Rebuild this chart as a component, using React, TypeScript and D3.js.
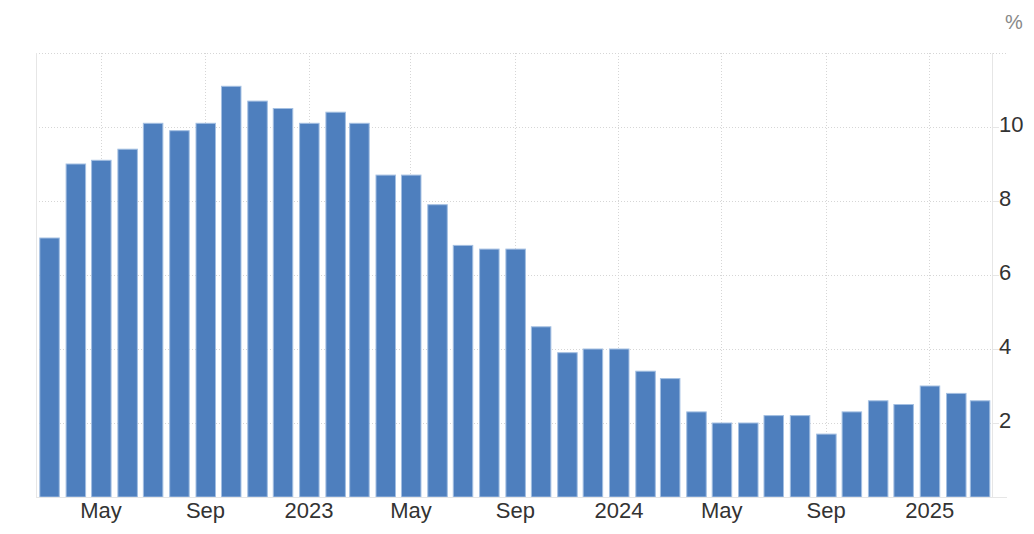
import React, { useEffect, useRef } from 'react'
import * as d3 from 'd3'

// UK CPI annual rate, Mar 2022 – Mar 2025
const months: string[] = [
  '2022-03', '2022-04', '2022-05', '2022-06', '2022-07', '2022-08', '2022-09', '2022-10', '2022-11', '2022-12',
  '2023-01', '2023-02', '2023-03', '2023-04', '2023-05', '2023-06', '2023-07', '2023-08', '2023-09', '2023-10',
  '2023-11', '2023-12', '2024-01', '2024-02', '2024-03', '2024-04', '2024-05', '2024-06', '2024-07', '2024-08',
  '2024-09', '2024-10', '2024-11', '2024-12', '2025-01', '2025-02', '2025-03',
]
const values: number[] = [
  7.0, 9.0, 9.1, 9.4, 10.1, 9.9, 10.1, 11.1, 10.7, 10.5,
  10.1, 10.4, 10.1, 8.7, 8.7, 7.9, 6.8, 6.7, 6.7, 4.6,
  3.9, 4.0, 4.0, 3.4, 3.2, 2.3, 2.0, 2.0, 2.2, 2.2,
  1.7, 2.3, 2.6, 2.5, 3.0, 2.8, 2.6,
]
const xTicks: string[] = ['2022-05', '2022-09', '2023-01', '2023-05', '2023-09', '2024-01', '2024-05', '2024-09', '2025-01']
const yTicks: number[] = [2, 4, 6, 8, 10]

const parse = d3.utcParse('%Y-%m')

const App: React.FC = () => {
  const ref = useRef<SVGSVGElement>(null)

  useEffect(() => {
    if (!ref.current) return
    const svg = d3.select(ref.current)
    svg.selectAll('*').remove()

    const left = 36
    const right = 992
    const top = 53
    const bottom = 497
    const font = '"Liberation Sans", Arial, Helvetica, sans-serif'

    const x = d3
      .scaleUtc()
      .domain([new Date(Date.UTC(2022, 1, 14)), new Date(Date.UTC(2025, 2, 16))])
      .range([left, right])
    const y = d3.scaleLinear().domain([0, 12]).range([bottom, top])

    const data = months.map((m, i) => ({ date: parse(m)!, value: values[i] }))

    // horizontal grid
    const gy = svg.append('g')
    ;[2, 4, 6, 8, 10, 12].forEach(v => {
      gy.append('line')
        .attr('x1', left)
        .attr('x2', v === 12 ? 1007 : right)
        .attr('y1', y(v) + 0.5)
        .attr('y2', y(v) + 0.5)
        .attr('stroke', '#d6d6d6')
        .attr('stroke-dasharray', '1,2')
    })

    // vertical grid
    xTicks.forEach(t => {
      const px = Math.round(x(parse(t)!)) + 0.5
      svg.append('line')
        .attr('x1', px)
        .attr('x2', px)
        .attr('y1', top)
        .attr('y2', bottom)
        .attr('stroke', '#d6d6d6')
        .attr('stroke-dasharray', '1,2')
    })

    // frame lines
    svg.append('line')
      .attr('x1', left + 0.5).attr('x2', left + 0.5)
      .attr('y1', top).attr('y2', bottom)
      .attr('stroke', '#e6e6e6')
    svg.append('line')
      .attr('x1', right + 0.5).attr('x2', right + 0.5)
      .attr('y1', top).attr('y2', bottom)
      .attr('stroke', '#e6e6e6')

    // bars
    const bw = 19.5
    svg.append('g')
      .selectAll('rect')
      .data(data)
      .enter()
      .append('rect')
      .attr('x', d => x(d.date) - bw / 2 + 0.8)
      .attr('y', d => y(d.value))
      .attr('width', bw)
      .attr('height', d => y(0) - y(d.value))
      .attr('fill', '#4e7fbe')
      .attr('stroke', '#a3bfe2')
      .attr('stroke-width', 1)

    // bottom axis line
    svg.append('line')
      .attr('x1', left).attr('x2', 1007)
      .attr('y1', bottom + 0.5).attr('y2', bottom + 0.5)
      .attr('stroke', '#e6e6e6')

    // y ticks and labels
    yTicks.forEach(v => {
      svg.append('line')
        .attr('x1', right).attr('x2', 999)
        .attr('y1', y(v) + 0.5).attr('y2', y(v) + 0.5)
        .attr('stroke', '#e6e6e6')
      svg.append('text')
        .attr('x', 999)
        .attr('y', y(v) + 5)
        .attr('font-family', font)
        .attr('font-size', 22)
        .attr('fill', '#333')
        .text(String(v))
    })

    svg.append('text')
      .attr('x', 1005)
      .attr('y', 29)
      .attr('font-family', font)
      .attr('font-size', 20)
      .attr('fill', '#888')
      .text('%')

    // x labels
    const fmt = (d: Date) => (d.getUTCMonth() === 0 ? d3.utcFormat('%Y')(d) : d3.utcFormat('%b')(d))
    xTicks.forEach(t => {
      const d = parse(t)!
      svg.append('text')
        .attr('x', x(d) + 0.5)
        .attr('y', 518)
        .attr('text-anchor', 'middle')
        .attr('font-family', font)
        .attr('font-size', 22)
        .attr('fill', '#333')
        .text(fmt(d))
    })
  }, [])

  return (
    <svg
      ref={ref}
      width={1034}
      height={534}
      style={{ position: 'absolute', left: 0, top: 0, background: '#fff' }}
    />
  )
}

export default App
